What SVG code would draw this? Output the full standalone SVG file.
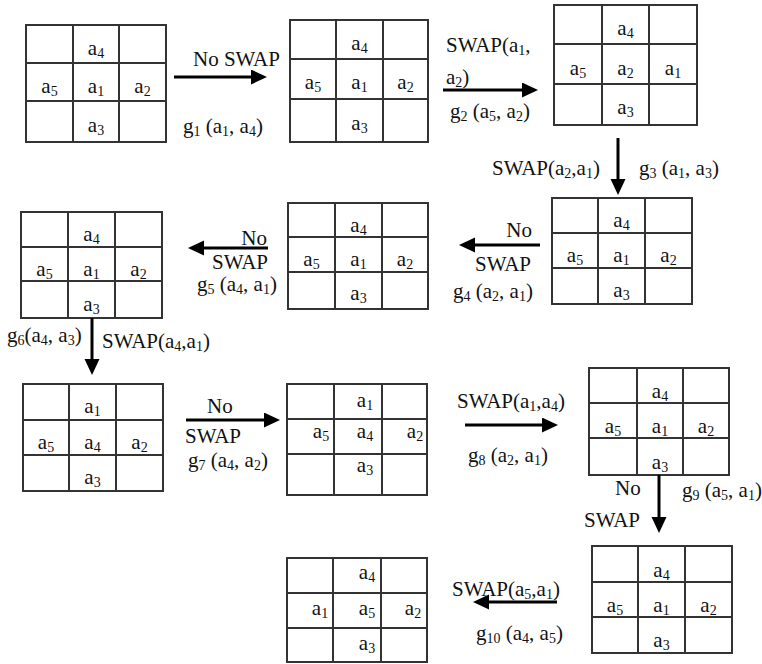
<svg xmlns="http://www.w3.org/2000/svg" width="762" height="664" viewBox="0 0 762 664">
<style>
.g rect,.g path{fill:none;stroke:#333;stroke-width:2}
text{font-family:"Liberation Serif","Times New Roman",serif;font-size:21px;fill:#111}
.c{text-anchor:middle}
.e{text-anchor:end}
.s{font-size:14px}
.arr{stroke:#000;stroke-width:3;fill:none;marker-end:url(#ah)}
</style>
<defs>
<marker id="ah" markerUnits="userSpaceOnUse" markerWidth="16" markerHeight="16" viewBox="0 0 16 16" refX="4" refY="7.5" orient="auto">
<path d="M0,0 L16,7.5 L0,15 Z" fill="#000"/>
</marker>
</defs>
<rect width="762" height="664" fill="#fff"/>

<g id="grid1" class="g">
<rect x="26" y="25" width="140" height="117"/>
<path d="M73,25V142M119,25V142M26,63H166M26,101H166"/>
<text class="c" x="96" y="55">a<tspan class="s" dy="3">4</tspan></text>
<text class="c" x="49.5" y="93">a<tspan class="s" dy="3">5</tspan></text>
<text class="c" x="96" y="93">a<tspan class="s" dy="3">1</tspan></text>
<text class="c" x="142.5" y="93">a<tspan class="s" dy="3">2</tspan></text>
<text class="c" x="96" y="132">a<tspan class="s" dy="3">3</tspan></text>
</g>

<g id="grid2" class="g">
<rect x="290" y="20" width="138" height="122"/>
<path d="M336,20V142M383,20V142M290,59H428M290,99H428"/>
<text class="c" x="359.5" y="50">a<tspan class="s" dy="3">4</tspan></text>
<text class="c" x="313" y="89">a<tspan class="s" dy="3">5</tspan></text>
<text class="c" x="359.5" y="89">a<tspan class="s" dy="3">1</tspan></text>
<text class="c" x="405.5" y="89">a<tspan class="s" dy="3">2</tspan></text>
<text class="c" x="359.5" y="130">a<tspan class="s" dy="3">3</tspan></text>
</g>

<g id="grid3" class="g">
<rect x="554" y="5" width="143" height="120"/>
<path d="M602,5V125M649,5V125M554,44H697M554,84H697"/>
<text class="c" x="625.5" y="35">a<tspan class="s" dy="3">4</tspan></text>
<text class="c" x="578" y="75">a<tspan class="s" dy="3">5</tspan></text>
<text class="c" x="625.5" y="75">a<tspan class="s" dy="3">2</tspan></text>
<text class="c" x="673" y="75">a<tspan class="s" dy="3">1</tspan></text>
<text class="c" x="625.5" y="114">a<tspan class="s" dy="3">3</tspan></text>
</g>

<g id="grid4" class="g">
<rect x="21" y="212" width="141" height="106"/>
<path d="M68,212V318M115,212V318M21,247H162M21,281H162"/>
<text class="c" x="91.5" y="241">a<tspan class="s" dy="3">4</tspan></text>
<text class="c" x="44.5" y="276">a<tspan class="s" dy="3">5</tspan></text>
<text class="c" x="91.5" y="276">a<tspan class="s" dy="3">1</tspan></text>
<text class="c" x="138.5" y="276">a<tspan class="s" dy="3">2</tspan></text>
<text class="c" x="91.5" y="311">a<tspan class="s" dy="3">3</tspan></text>
</g>

<g id="grid5" class="g">
<rect x="288" y="203" width="140" height="106"/>
<path d="M335,203V309M382,203V309M288,237H428M288,272H428"/>
<text class="c" x="358.5" y="232">a<tspan class="s" dy="3">4</tspan></text>
<text class="c" x="311.5" y="266">a<tspan class="s" dy="3">5</tspan></text>
<text class="c" x="358.5" y="266">a<tspan class="s" dy="3">1</tspan></text>
<text class="c" x="405" y="266">a<tspan class="s" dy="3">2</tspan></text>
<text class="c" x="358.5" y="300">a<tspan class="s" dy="3">3</tspan></text>
</g>

<g id="grid6" class="g">
<rect x="552" y="198" width="140" height="106"/>
<path d="M598,198V304M645,198V304M552,233H692M552,268H692"/>
<text class="c" x="621.5" y="227">a<tspan class="s" dy="3">4</tspan></text>
<text class="c" x="575" y="262">a<tspan class="s" dy="3">5</tspan></text>
<text class="c" x="621.5" y="262">a<tspan class="s" dy="3">1</tspan></text>
<text class="c" x="668.5" y="262">a<tspan class="s" dy="3">2</tspan></text>
<text class="c" x="621.5" y="297">a<tspan class="s" dy="3">3</tspan></text>
</g>

<g id="grid7" class="g">
<rect x="23" y="384" width="140" height="107"/>
<path d="M69,384V491M116,384V491M23,420H163M23,455H163"/>
<text class="c" x="92.5" y="413">a<tspan class="s" dy="3">1</tspan></text>
<text class="c" x="46" y="449">a<tspan class="s" dy="3">5</tspan></text>
<text class="c" x="92.5" y="449">a<tspan class="s" dy="3">4</tspan></text>
<text class="c" x="139.5" y="449">a<tspan class="s" dy="3">2</tspan></text>
<text class="c" x="92.5" y="484">a<tspan class="s" dy="3">3</tspan></text>
</g>

<g id="grid8" class="g">
<rect x="287" y="384" width="140" height="111"/>
<path d="M334,384V495M382,384V495M287,419H427M287,454H427"/>
<text class="c" x="365" y="407">a<tspan class="s" dy="3">1</tspan></text>
<text class="c" x="321" y="438">a<tspan class="s" dy="3">5</tspan></text>
<text class="c" x="365" y="438">a<tspan class="s" dy="3">4</tspan></text>
<text class="c" x="415" y="438">a<tspan class="s" dy="3">2</tspan></text>
<text class="c" x="365" y="472">a<tspan class="s" dy="3">3</tspan></text>
</g>

<g id="grid9" class="g">
<rect x="589" y="368" width="140" height="107"/>
<path d="M637,368V475M683,368V475M589,403H729M589,438H729"/>
<text class="c" x="660" y="398">a<tspan class="s" dy="3">4</tspan></text>
<text class="c" x="613" y="433">a<tspan class="s" dy="3">5</tspan></text>
<text class="c" x="660" y="433">a<tspan class="s" dy="3">1</tspan></text>
<text class="c" x="706" y="433">a<tspan class="s" dy="3">2</tspan></text>
<text class="c" x="660" y="469">a<tspan class="s" dy="3">3</tspan></text>
</g>

<g id="grid10" class="g">
<rect x="592" y="546" width="140" height="107"/>
<path d="M638,546V653M685,546V653M592,582H732M592,617H732"/>
<text class="c" x="661.5" y="577">a<tspan class="s" dy="3">4</tspan></text>
<text class="c" x="615" y="612">a<tspan class="s" dy="3">5</tspan></text>
<text class="c" x="661.5" y="612">a<tspan class="s" dy="3">1</tspan></text>
<text class="c" x="708.5" y="612">a<tspan class="s" dy="3">2</tspan></text>
<text class="c" x="661.5" y="647">a<tspan class="s" dy="3">3</tspan></text>
</g>

<g id="grid11" class="g">
<rect x="287" y="558" width="140" height="104"/>
<path d="M333,558V662M381,558V662M287,593H427M287,628H427"/>
<text class="c" x="367" y="579">a<tspan class="s" dy="3">4</tspan></text>
<text class="c" x="320" y="615">a<tspan class="s" dy="3">1</tspan></text>
<text class="c" x="367" y="615">a<tspan class="s" dy="3">5</tspan></text>
<text class="c" x="413" y="615">a<tspan class="s" dy="3">2</tspan></text>
<text class="c" x="367" y="650">a<tspan class="s" dy="3">3</tspan></text>
</g>

<g id="connectors">
<line class="arr" x1="174" y1="77" x2="255" y2="77"/>
<line class="arr" x1="443" y1="90" x2="526" y2="90"/>
<line class="arr" x1="618" y1="138" x2="618" y2="183"/>
<line class="arr" x1="540" y1="245" x2="471" y2="245"/>
<line class="arr" x1="268" y1="248" x2="200" y2="248"/>
<line class="arr" x1="92" y1="318" x2="92" y2="363"/>
<line class="arr" x1="186" y1="420" x2="268" y2="420"/>
<line class="arr" x1="465" y1="425" x2="546" y2="425"/>
<line class="arr" x1="659" y1="475" x2="659" y2="521"/>
<line class="arr" x1="557" y1="602" x2="485" y2="602"/>
</g>

<g id="labels">
<text x="193" y="66">No SWAP</text>
<text x="183" y="133">g<tspan class="s" dy="3">1</tspan><tspan dy="-3"> (a</tspan><tspan class="s" dy="3">1</tspan><tspan dy="-3">, a</tspan><tspan class="s" dy="3">4</tspan><tspan dy="-3">)</tspan></text>
<text x="446" y="52">SWAP(a<tspan class="s" dy="3">1</tspan><tspan dy="-3">,</tspan></text>
<text x="446" y="84">a<tspan class="s" dy="3">2</tspan><tspan dy="-3">)</tspan></text>
<text x="450" y="118">g<tspan class="s" dy="3">2</tspan><tspan dy="-3"> (a</tspan><tspan class="s" dy="3">5</tspan><tspan dy="-3">, a</tspan><tspan class="s" dy="3">2</tspan><tspan dy="-3">)</tspan></text>
<text x="492" y="175">SWAP(a<tspan class="s" dy="3">2</tspan><tspan dy="-3">,a</tspan><tspan class="s" dy="3">1</tspan><tspan dy="-3">)</tspan></text>
<text x="639" y="175">g<tspan class="s" dy="3">3</tspan><tspan dy="-3"> (a</tspan><tspan class="s" dy="3">1</tspan><tspan dy="-3">, a</tspan><tspan class="s" dy="3">3</tspan><tspan dy="-3">)</tspan></text>
<text class="e" x="532" y="237">No</text>
<text class="e" x="531" y="271">SWAP</text>
<text x="453" y="298">g<tspan class="s" dy="3">4</tspan><tspan dy="-3"> (a</tspan><tspan class="s" dy="3">2</tspan><tspan dy="-3">, a</tspan><tspan class="s" dy="3">1</tspan><tspan dy="-3">)</tspan></text>
<text class="e" x="267" y="245">No</text>
<text class="e" x="268" y="269">SWAP</text>
<text x="197" y="291">g<tspan class="s" dy="3">5</tspan><tspan dy="-3"> (a</tspan><tspan class="s" dy="3">4</tspan><tspan dy="-3">, a</tspan><tspan class="s" dy="3">1</tspan><tspan dy="-3">)</tspan></text>
<text x="7" y="342">g<tspan class="s" dy="3">6</tspan><tspan dy="-3">(a</tspan><tspan class="s" dy="3">4</tspan><tspan dy="-3">, a</tspan><tspan class="s" dy="3">3</tspan><tspan dy="-3">)</tspan></text>
<text x="102" y="348">SWAP(a<tspan class="s" dy="3">4</tspan><tspan dy="-3">,a</tspan><tspan class="s" dy="3">1</tspan><tspan dy="-3">)</tspan></text>
<text x="207" y="413">No</text>
<text x="185" y="443">SWAP</text>
<text x="188" y="467">g<tspan class="s" dy="3">7</tspan><tspan dy="-3"> (a</tspan><tspan class="s" dy="3">4</tspan><tspan dy="-3">, a</tspan><tspan class="s" dy="3">2</tspan><tspan dy="-3">)</tspan></text>
<text x="457" y="408">SWAP(a<tspan class="s" dy="3">1</tspan><tspan dy="-3">,a</tspan><tspan class="s" dy="3">4</tspan><tspan dy="-3">)</tspan></text>
<text x="468" y="462">g<tspan class="s" dy="3">8</tspan><tspan dy="-3"> (a</tspan><tspan class="s" dy="3">2</tspan><tspan dy="-3">, a</tspan><tspan class="s" dy="3">1</tspan><tspan dy="-3">)</tspan></text>
<text x="615" y="495">No</text>
<text x="584" y="527">SWAP</text>
<text x="682" y="497">g<tspan class="s" dy="3">9</tspan><tspan dy="-3"> (a</tspan><tspan class="s" dy="3">5</tspan><tspan dy="-3">, a</tspan><tspan class="s" dy="3">1</tspan><tspan dy="-3">)</tspan></text>
<text x="452" y="596">SWAP(a<tspan class="s" dy="3">5</tspan><tspan dy="-3">,a</tspan><tspan class="s" dy="3">1</tspan><tspan dy="-3">)</tspan></text>
<text x="476" y="640">g<tspan class="s" dy="3">10</tspan><tspan dy="-3"> (a</tspan><tspan class="s" dy="3">4</tspan><tspan dy="-3">, a</tspan><tspan class="s" dy="3">5</tspan><tspan dy="-3">)</tspan></text>
</g>
</svg>
